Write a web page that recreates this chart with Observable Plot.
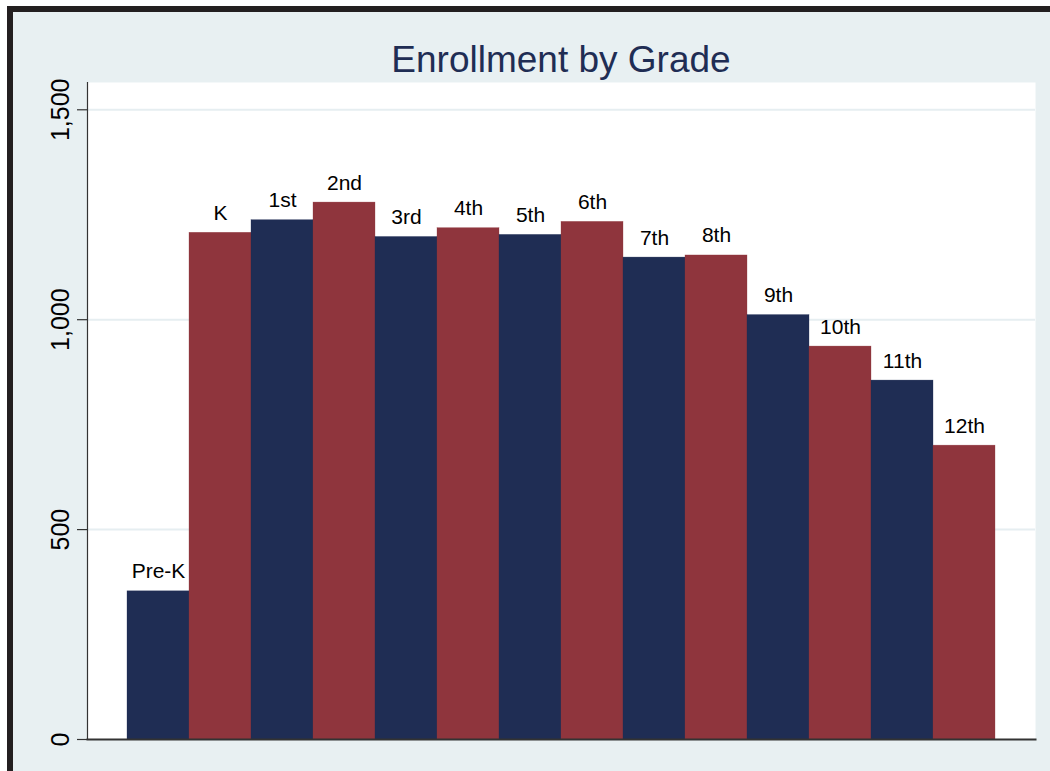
<!DOCTYPE html>
<html>
<head>
<meta charset="utf-8">
<script src="https://cdn.jsdelivr.net/npm/d3@7"></script>
<script src="https://cdn.jsdelivr.net/npm/@observablehq/plot@0.6"></script>
<style>
  html, body { margin: 0; padding: 0; background: #ffffff; }
  #page { position: relative; width: 1050px; height: 771px; overflow: hidden; background: #ffffff; }
  #panel { position: absolute; left: 7px; top: 6px; right: 0; bottom: 0;
           background: #E8F0F2; border-left: 6px solid #231F20; border-top: 6px solid #231F20; }
  #title { position: absolute; left: 0; top: 41px; width: 1122px; text-align: center;
           font-family: "Liberation Sans", Arial, sans-serif; font-size: 37px; color: #1F2D54;
           line-height: 1; }
  #chart { position: absolute; left: 0; top: 0; }
</style>
</head>
<body>
<div id="page">
  <div id="panel"></div>
  <div id="title">Enrollment by Grade</div>
  <div id="chart"></div>
</div>
<script>
const grades = ["Pre-K","K","1st","2nd","3rd","4th","5th","6th","7th","8th","9th","10th","11th","12th"];
const enrollment = [353, 1207, 1237, 1279, 1197, 1218, 1202, 1233, 1148, 1153, 1011, 936, 855, 700];
const yTicks = [0, 500, 1000, 1500];

const navy = "#1F2D54";
const maroon = "#8F353D";

const data = grades.map((g, i) => ({grade: g, count: enrollment[i], idx: i}));

const chart = Plot.plot({
  width: 1050,
  height: 771,
  marginLeft: 87,
  marginRight: 15,
  marginTop: 82,
  marginBottom: 32,
  style: {background: "transparent", fontFamily: "'Liberation Sans', Arial, sans-serif", color: "#000"},
  x: {type: "band", domain: grades, paddingInner: 0, paddingOuter: 0.62, axis: null, label: null},
  y: {domain: [0, 1565], axis: null, label: null},
  marks: [
    Plot.frame({fill: "white", stroke: null}),
    Plot.gridY(yTicks.filter(d => d > 0), {stroke: "#E6EEF1", strokeOpacity: 1, strokeWidth: 2}),
    Plot.barY(data, {x: "grade", y: "count", fill: d => d.idx % 2 ? maroon : navy, stroke: d => d.idx % 2 ? maroon : navy, strokeOpacity: 0.6, strokeWidth: 0.5}),
    Plot.text(data, {x: "grade", y: "count", text: "grade", dy: -13, lineAnchor: "bottom", fontSize: 21, fill: "#000"}),
    Plot.axisY(yTicks, {label: null, tickFormat: d3.format(","), tickRotate: -90, tickSize: 10, tickPadding: 9, fontSize: 25, stroke: "#333", strokeWidth: 1.2, fill: "#000"}),
    Plot.frame({anchor: "left", stroke: "#333", strokeWidth: 1.2}),
    Plot.frame({anchor: "bottom", stroke: "#333", strokeWidth: 2})
  ]
});
document.getElementById("chart").appendChild(chart);
</script>
</body>
</html>
